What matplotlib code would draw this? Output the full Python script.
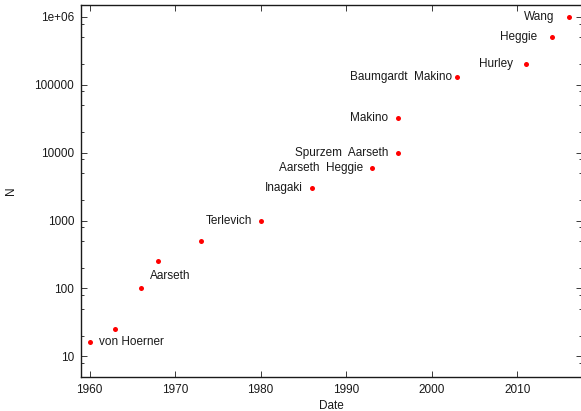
import numpy as np
import matplotlib
matplotlib.use("Agg")
import matplotlib.pyplot as plt
from matplotlib.ticker import LogLocator, NullFormatter, FixedLocator

# simulation size N against publication year
year = [1960, 1963, 1966, 1968, 1973, 1980, 1986, 1993, 1996, 1996, 2003, 2011, 2014, 2016]
n_bodies = [16, 25, 100, 250, 500, 1000, 3000, 6000, 10000, 32768, 131072, 200000, 500000, 1000000]
names = ["von Hoerner", "", "", "Aarseth", "", "Terlevich", "Inagaki", "Aarseth  Heggie",
         "Spurzem  Aarseth", "Makino", "Baumgardt  Makino", "Hurley", "Heggie", "Wang"]

# label placement (pixels from the point) and alignment
label_dx = [9, 0, 0, 12, 0, -9, -9, -9, -9, -9, -5, -13, -14, -14]
label_dy = [0, 0, 0, -15, 0, 0, 0, 0, 0, 0, 0, 0, 0, 0]
label_ha = ["left", "left", "left", "center", "left", "right", "right", "right",
            "right", "right", "right", "right", "right", "right"]

plt.rcParams['font.family'] = ['Liberation Sans', 'DejaVu Sans']
plt.rcParams['font.size'] = 8.5

fig = plt.figure(figsize=(5.81, 4.11), dpi=100)
ax = fig.add_axes([81 / 581, 1 - 376.7 / 411, 500.5 / 581, 371.7 / 411])

ax.plot(year, n_bodies, "o", color="#ff0000", markersize=3.6, markeredgewidth=0)

for x, y, s, dx, dy, ha in zip(year, n_bodies, names, label_dx, label_dy, label_ha):
    if s:
        ax.annotate(s, (x, y), xytext=(dx, dy), textcoords="offset pixels",
                    ha=ha, va="center", color="#1a1a1a")

ax.set_yscale("log")
ax.set_xlim(1959, 2017.5)
ax.set_ylim(5, 1.5e6)

ax.xaxis.set_major_locator(FixedLocator([1960, 1970, 1980, 1990, 2000, 2010]))
ax.set_yticks([10, 100, 1000, 10000, 100000, 1000000])
ax.set_yticklabels(["10", "100", "1000", "10000", "100000", "1e+06"])
ax.yaxis.set_minor_locator(LogLocator(base=10, subs=(2, 5, 8)))
ax.yaxis.set_minor_formatter(NullFormatter())

ax.tick_params(which="both", direction="in", top=True, right=True, width=0.6, colors="#1a1a1a")
ax.tick_params(which="major", length=4, pad=5)
ax.tick_params(which="minor", length=2)
for sp in ax.spines.values():
    sp.set_linewidth(1.0)
    sp.set_color("#1a1a1a")

ax.set_xlabel("Date", color="#1a1a1a")
ax.set_ylabel("N", color="#1a1a1a")
ax.xaxis.set_label_coords(0.5, -0.062)
ax.yaxis.set_label_coords(-0.127, 0.5)

fig.savefig("out.png", dpi=100)
